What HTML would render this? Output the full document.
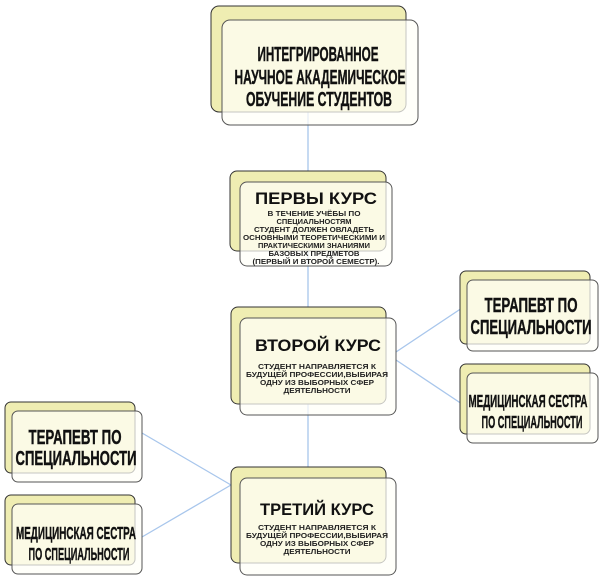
<!DOCTYPE html>
<html><head><meta charset="utf-8"><style>
html,body{margin:0;padding:0;background:#fff;width:600px;height:578px;overflow:hidden}
svg text{font-family:"Liberation Sans","DejaVu Sans",sans-serif;font-weight:bold;fill:#111;text-anchor:middle}
.n{stroke:#111;stroke-width:0.4}
.s{font-size:7.2px;fill:#222}
.b{fill:#efedb2;stroke:#333;stroke-width:1}
.f{fill:rgba(255,255,248,0.72);stroke:#555;stroke-width:1}
</style></head><body>
<svg width="600" height="578" viewBox="0 0 600 578" xmlns="http://www.w3.org/2000/svg">
<g stroke="#a8c6ec" stroke-width="1.3" fill="none">
<line x1="308" y1="112" x2="308" y2="478"/>
<line x1="396" y1="352" x2="462" y2="308"/>
<line x1="396" y1="360" x2="462" y2="404"/>
<line x1="142" y1="433" x2="231" y2="485"/>
<line x1="142" y1="537" x2="231" y2="485"/>
</g>
<!-- top -->
<rect class="b" x="211" y="6" width="195" height="106" rx="8"/>
<rect class="f" x="222" y="20" width="196" height="105" rx="8"/>
<text class="n" x="318" y="61" font-size="20" textLength="121" lengthAdjust="spacingAndGlyphs">ИНТЕГРИРОВАННОЕ</text>
<text class="n" x="320" y="84" font-size="20" textLength="171" lengthAdjust="spacingAndGlyphs">НАУЧНОЕ АКАДЕМИЧЕСКОЕ</text>
<text class="n" x="319" y="106" font-size="20" textLength="146" lengthAdjust="spacingAndGlyphs">ОБУЧЕНИЕ СТУДЕНТОВ</text>
<!-- box1 -->
<rect class="b" x="230" y="171" width="156" height="80" rx="7"/>
<rect class="f" x="240" y="182" width="152" height="84" rx="7"/>
<text x="316" y="204" font-size="16.5" textLength="122" lengthAdjust="spacingAndGlyphs">ПЕРВЫ  КУРС</text>
<text class="s" x="314" y="216" textLength="93" lengthAdjust="spacingAndGlyphs">В ТЕЧЕНИЕ УЧЁБЫ ПО</text>
<text class="s" x="314" y="224" textLength="75" lengthAdjust="spacingAndGlyphs">СПЕЦИАЛЬНОСТЯМ</text>
<text class="s" x="314" y="232" textLength="120" lengthAdjust="spacingAndGlyphs">СТУДЕНТ ДОЛЖЕН ОВЛАДЕТЬ</text>
<text class="s" x="314" y="240" textLength="142" lengthAdjust="spacingAndGlyphs">ОСНОВНЫМИ ТЕОРЕТИЧЕСКИМИ И</text>
<text class="s" x="314" y="248" textLength="112" lengthAdjust="spacingAndGlyphs">ПРАКТИЧЕСКИМИ ЗНАНИЯМИ</text>
<text class="s" x="314" y="256" textLength="91" lengthAdjust="spacingAndGlyphs">БАЗОВЫХ ПРЕДМЕТОВ</text>
<text class="s" x="316" y="264" textLength="127" lengthAdjust="spacingAndGlyphs">(ПЕРВЫЙ И ВТОРОЙ  СЕМЕСТР).</text>
<!-- box2 -->
<rect class="b" x="231" y="307" width="155" height="97" rx="7"/>
<rect class="f" x="240" y="318" width="156" height="97" rx="7"/>
<text x="318" y="351" font-size="16.5" textLength="126" lengthAdjust="spacingAndGlyphs">ВТОРОЙ  КУРС</text>
<text class="s" x="317" y="369" textLength="118" lengthAdjust="spacingAndGlyphs">СТУДЕНТ НАПРАВЛЯЕТСЯ К</text>
<text class="s" x="317" y="377" textLength="142" lengthAdjust="spacingAndGlyphs">БУДУЩЕЙ ПРОФЕССИИ,ВЫБИРАЯ</text>
<text class="s" x="317" y="385" textLength="114" lengthAdjust="spacingAndGlyphs">ОДНУ ИЗ ВЫБОРНЫХ СФЕР</text>
<text class="s" x="317" y="393" textLength="67" lengthAdjust="spacingAndGlyphs">ДЕЯТЕЛЬНОСТИ</text>
<!-- box3 -->
<rect class="b" x="231" y="467" width="155" height="96" rx="7"/>
<rect class="f" x="240" y="478" width="156" height="97" rx="7"/>
<text x="317" y="515" font-size="16.5" textLength="114" lengthAdjust="spacingAndGlyphs">ТРЕТИЙ КУРС</text>
<text class="s" x="317" y="530" textLength="118" lengthAdjust="spacingAndGlyphs">СТУДЕНТ НАПРАВЛЯЕТСЯ К</text>
<text class="s" x="317" y="538" textLength="142" lengthAdjust="spacingAndGlyphs">БУДУЩЕЙ ПРОФЕССИИ,ВЫБИРАЯ</text>
<text class="s" x="317" y="546" textLength="114" lengthAdjust="spacingAndGlyphs">ОДНУ ИЗ ВЫБОРНЫХ СФЕР</text>
<text class="s" x="317" y="554" textLength="67" lengthAdjust="spacingAndGlyphs">ДЕЯТЕЛЬНОСТИ</text>
<!-- right top -->
<rect class="b" x="460" y="271" width="130" height="73" rx="6"/>
<rect class="f" x="467" y="280" width="131" height="71" rx="6"/>
<text class="n" x="531" y="312" font-size="20" textLength="93" lengthAdjust="spacingAndGlyphs">ТЕРАПЕВТ ПО</text>
<text class="n" x="531" y="334" font-size="20" textLength="121" lengthAdjust="spacingAndGlyphs">СПЕЦИАЛЬНОСТИ</text>
<!-- right bottom -->
<rect class="b" x="460" y="364" width="130" height="70" rx="6"/>
<rect class="f" x="467" y="373" width="131" height="70" rx="6"/>
<text class="n" x="528" y="407" font-size="17.5" textLength="119" lengthAdjust="spacingAndGlyphs">МЕДИЦИНСКАЯ СЕСТРА</text>
<text class="n" x="532" y="428" font-size="17.5" textLength="101" lengthAdjust="spacingAndGlyphs">ПО СПЕЦИАЛЬНОСТИ</text>
<!-- left top -->
<rect class="b" x="5" y="402" width="130" height="71" rx="6"/>
<rect class="f" x="12" y="411" width="130" height="71" rx="6"/>
<text class="n" x="75" y="444" font-size="20" textLength="93" lengthAdjust="spacingAndGlyphs">ТЕРАПЕВТ ПО</text>
<text class="n" x="76" y="465" font-size="20" textLength="121" lengthAdjust="spacingAndGlyphs">СПЕЦИАЛЬНОСТИ</text>
<!-- left bottom -->
<rect class="b" x="5" y="495" width="130" height="70" rx="6"/>
<rect class="f" x="12" y="504" width="130" height="70" rx="6"/>
<text class="n" x="76" y="539" font-size="17.5" textLength="120" lengthAdjust="spacingAndGlyphs">МЕДИЦИНСКАЯ СЕСТРА</text>
<text class="n" x="79" y="560" font-size="17.5" textLength="101" lengthAdjust="spacingAndGlyphs">ПО СПЕЦИАЛЬНОСТИ</text>
</svg>
</body></html>
